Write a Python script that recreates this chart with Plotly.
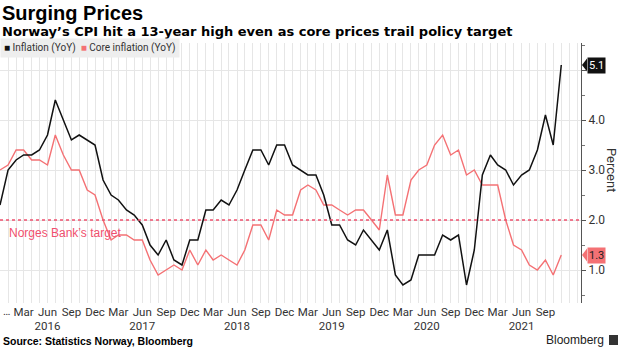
import plotly.graph_objects as go
import pandas as pd

# ---- data ----
months = pd.date_range("2015-12-01", "2021-11-01", freq="MS").strftime("%Y-%m-%d").tolist()

inflation = [2.3,
             3.0, 3.2, 3.3, 3.3, 3.4, 3.7, 4.4, 4.0, 3.6, 3.7, 3.6, 3.5,
             2.8, 2.5, 2.4, 2.2, 2.1, 1.9, 1.5, 1.3, 1.6, 1.2, 1.1, 1.6,
             1.6, 2.2, 2.2, 2.4, 2.3, 2.6, 3.0, 3.4, 3.4, 3.1, 3.5, 3.5,
             3.1, 3.0, 2.9, 2.9, 2.5, 1.9, 1.9, 1.6, 1.5, 1.8, 1.6, 1.4,
             1.8, 0.9, 0.7, 0.8, 1.3, 1.3, 1.3, 1.7, 1.6, 1.7, 0.7, 1.4,
             2.9, 3.3, 3.1, 3.0, 2.7, 2.9, 3.0, 3.4, 4.1, 3.5, 5.1]

core = [3.0,
        3.1, 3.4, 3.4, 3.2, 3.2, 3.1, 3.7, 3.3, 3.0, 3.0, 2.6, 2.5,
        2.0, 1.6, 1.7, 1.7, 1.6, 1.6, 1.2, 0.9, 1.0, 1.1, 1.0, 1.4,
        1.1, 1.4, 1.2, 1.3, 1.2, 1.1, 1.4, 1.9, 1.9, 1.6, 2.2, 2.1,
        2.1, 2.6, 2.7, 2.6, 2.3, 2.3, 2.2, 2.1, 2.2, 2.2, 2.0, 1.8,
        2.9, 2.1, 2.1, 2.8, 3.0, 3.1, 3.5, 3.7, 3.3, 3.4, 2.9, 3.0,
        2.7, 2.7, 2.7, 2.0, 1.5, 1.4, 1.1, 1.0, 1.2, 0.9, 1.3]

target = 2.0

tick_dates = pd.date_range("2016-03-01", "2021-09-01", freq="3MS")
tick_vals = tick_dates.strftime("%Y-%m-%d").tolist()
tick_text = [d.strftime("%b") + ("<br>" + d.strftime("%Y") if d.month == 6 else "")
             for d in tick_dates]

y_ticks = [1, 2, 3, 4, 5]
y_tick_text = ["1.0", "2.0", "3.0", "4.0", ""]

BLACK = "#111111"
RED = "#f47174"
TARGET = "#f0506e"
GRID = "#e6e6e6"
NARROW = "Roboto, Liberation Sans, sans-serif"
SANS = "Liberation Sans, Arial, sans-serif"
WIDE = "DejaVu Sans, Verdana, sans-serif"

fig = go.Figure()
fig.add_trace(go.Scatter(x=months, y=core, mode="lines",
                         line=dict(color=RED, width=1.4), name="Core inflation (YoY)"))
fig.add_trace(go.Scatter(x=months, y=inflation, mode="lines",
                         line=dict(color=BLACK, width=1.5), name="Inflation (YoY)"))

W, H = 620, 348
ML, MR, MT, MB = 0, 39, 43, 45
PH = H - MT - MB
PW = W - ML - MR


def py(pix):
    return (H - MB - pix) / PH


def px(pix):
    return (pix - ML) / PW


fig.add_shape(type="line", xref="paper", yref="y", x0=0, x1=1, y0=target, y1=target,
              line=dict(color=TARGET, width=1.6, dash="dot"))

# last value pointers
last_inf = inflation[-1]
last_core = core[-1]
for val, col in [(last_inf, BLACK), (last_core, RED)]:
    fig.add_shape(type="path", xref="paper", yref="y",
                  path=f"M {px(582)},{val} L {px(587)},{val + 0.13} L {px(587)},{val - 0.13} Z",
                  fillcolor=col, line=dict(width=0))

annotations = [
    dict(text="<b>Surging Prices</b>", x=0, y=py(13), xref="paper", yref="paper",
         xanchor="left", yanchor="middle", showarrow=False,
         font=dict(family=SANS, size=20, color="#000")),
    dict(text="<b>Norway’s CPI hit a 13-year high even as core prices trail policy target</b>",
         x=0, y=py(32), xref="paper", yref="paper", xanchor="left", yanchor="middle",
         showarrow=False, font=dict(family=WIDE, size=13, color="#000")),
    dict(text=f"<span style='color:{BLACK}'>■</span> Inflation (YoY)  "
              f"<span style='color:{RED}'>■</span> Core inflation (YoY)",
         x=0, y=py(48), xref="paper", yref="paper", xanchor="left", yanchor="middle",
         showarrow=False, bgcolor="#eeeeee", borderpad=3,
         font=dict(family=NARROW, size=10, color="#333")),
    dict(text="Norges Bank’s target", x=px(7), y=1.75, xref="paper", yref="y",
         xanchor="left", yanchor="middle", showarrow=False,
         font=dict(family=SANS, size=12, color=TARGET)),
    dict(text="…", x=px(1), y=py(311), xref="paper", yref="paper",
         xanchor="left", yanchor="middle", showarrow=False,
         font=dict(family=NARROW, size=11, color="#333")),
    dict(text="Percent", x=px(612), y=py(170), xref="paper", yref="paper",
         xanchor="center", yanchor="middle", textangle=90, showarrow=False,
         font=dict(family=NARROW, size=13, color="#333")),
    dict(text="<b>Source: Statistics Norway, Bloomberg</b>", x=px(1), y=py(341),
         xref="paper", yref="paper", xanchor="left", yanchor="middle", showarrow=False,
         font=dict(family=SANS, size=10.5, color="#000")),
    dict(text="Bloomberg", x=px(606), y=py(340), xref="paper", yref="paper",
         xanchor="right", yanchor="middle", showarrow=False,
         font=dict(family=SANS, size=12, color="#222")),
    dict(text=f"{last_inf:.1f}", x=px(587), y=last_inf, xref="paper", yref="y",
         xanchor="left", yanchor="middle", showarrow=False, bgcolor=BLACK, borderpad=1,
         font=dict(family=NARROW, size=11, color="#ffffff")),
    dict(text=f"{last_core:.1f}", x=px(587), y=last_core, xref="paper", yref="y",
         xanchor="left", yanchor="middle", showarrow=False, bgcolor=RED, borderpad=1,
         font=dict(family=NARROW, size=11, color="#222")),
]

# Bloomberg logo glyph
fig.add_shape(type="rect", xref="paper", yref="paper",
              x0=px(609), x1=px(618), y0=py(345), y1=py(335),
              fillcolor="#333", line=dict(width=0))

fig.update_layout(
    width=W, height=H,
    margin=dict(l=ML, r=MR, t=MT, b=MB),
    paper_bgcolor="white", plot_bgcolor="white",
    showlegend=False,
    annotations=annotations,
    xaxis=dict(type="date", range=["2015-12-01", "2022-01-16"],
               tickvals=tick_vals, ticktext=tick_text, tickangle=0,
               showgrid=True, gridcolor=GRID, gridwidth=1,
               minor=dict(dtick="M1", tick0="2015-12-01", showgrid=True,
                          gridcolor=GRID, gridwidth=1),
               ticks="", showline=False, zeroline=False,
               tickfont=dict(family=NARROW, size=11.5, color="#333")),
    yaxis=dict(side="right", range=[0.34, 5.54],
               tickvals=y_ticks, ticktext=y_tick_text,
               ticks="outside", ticklen=4, tickcolor="#555",
               showline=True, linecolor="#555", linewidth=1,
               showgrid=True, gridcolor=GRID, zeroline=False,
               minor=dict(dtick=0.5, ticks="outside", ticklen=3, tickcolor="#777",
                          showgrid=False),
               tickfont=dict(family=NARROW, size=12, color="#333")),
)

fig.write_html("out.html")
